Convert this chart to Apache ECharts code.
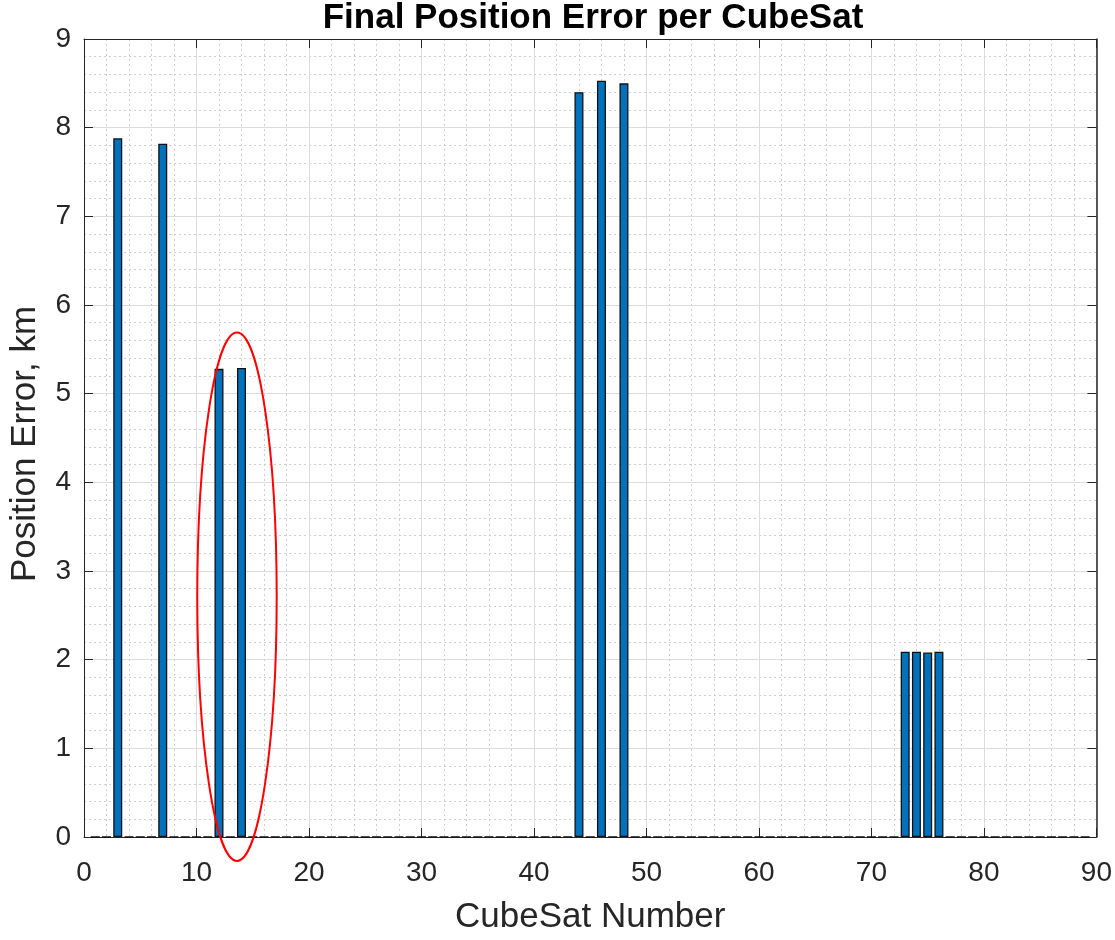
<!DOCTYPE html>
<html>
<head>
<meta charset="utf-8">
<script src="https://cdn.jsdelivr.net/npm/echarts@6/dist/echarts.min.js"></script>
<style>html,body{margin:0;padding:0;background:#fff;}#c{width:1115px;height:940px;}</style>
</head>
<body>
<div id="c"></div>
<script>
const satNumbers = Array.from({length: 89}, (_, i) => i + 1);
const nonZeroSats = [3, 7, 12, 14, 44, 46, 48, 73, 74, 75, 76];
const nonZeroErrors = [7.88, 7.82, 5.28, 5.29, 8.40, 8.53, 8.50, 2.09, 2.09, 2.08, 2.09];
const xTicks = [0, 10, 20, 30, 40, 50, 60, 70, 80, 90];
const yTicks = [0, 1, 2, 3, 4, 5, 6, 7, 8, 9];
// highlight ellipse: [centerX, centerY, radiusX, radiusY] in data units
const highlightEllipse = [13.6, 2.71, 3.53, 2.98];

const errors = satNumbers.map(n => {
  const k = nonZeroSats.indexOf(n);
  return k >= 0 ? nonZeroErrors[k] : 0;
});
const barData = satNumbers.map((n, i) => [n, errors[i]]);

const FONT = "'Liberation Sans', Arial, Helvetica, sans-serif";
const AX = '#262626';

const chart = echarts.init(document.getElementById('c'));
chart.setOption({
  animation: false,
  backgroundColor: '#fff',
  title: {
    text: 'Final Position Error per CubeSat',
    left: 588, top: -4, textAlign: 'center',
    textStyle: {fontFamily: FONT, fontSize: 35, fontWeight: 'bold', color: '#000'}
  },
  grid: {left: 78, right: 16, top: 39, bottom: 95},
  xAxis: [{
    type: 'value', min: xTicks[0], max: xTicks[xTicks.length - 1], interval: 10,
    name: 'CubeSat Number', nameLocation: 'middle', nameGap: 63,
    nameTextStyle: {fontFamily: FONT, fontSize: 35, color: AX},
    axisLine: {show: true, onZero: false, lineStyle: {color: AX, width: 1}},
    axisTick: {show: true, inside: true, length: 9, lineStyle: {color: AX}},
    axisLabel: {fontFamily: FONT, fontSize: 28, color: AX, margin: 22},
    splitLine: {show: true, lineStyle: {color: '#dcdcdc', width: 1}},
    minorTick: {show: false, splitNumber: 5},
    minorSplitLine: {show: true, lineStyle: {color: '#cfcfcf', width: 1, type: [2, 3]}}
  }, {
    type: 'value', position: 'top', min: xTicks[0], max: xTicks[xTicks.length - 1], interval: 10,
    axisLine: {show: true, onZero: false, lineStyle: {color: AX, width: 1}},
    axisTick: {show: true, inside: true, length: 9, lineStyle: {color: AX}},
    axisLabel: {show: false}, splitLine: {show: false}
  }],
  yAxis: [{
    type: 'value', min: yTicks[0], max: yTicks[yTicks.length - 1], interval: 1,
    name: 'Position Error, km', nameLocation: 'middle', nameGap: 41,
    nameTextStyle: {fontFamily: FONT, fontSize: 35, color: AX, padding: [0, 12, 0, 0]},
    axisLine: {show: true, onZero: false, lineStyle: {color: AX, width: 1}},
    axisTick: {show: true, inside: true, length: 9, lineStyle: {color: AX}},
    axisLabel: {fontFamily: FONT, fontSize: 28, color: AX, margin: 13},
    splitLine: {show: true, lineStyle: {color: '#dcdcdc', width: 1}},
    minorTick: {show: false, splitNumber: 5},
    minorSplitLine: {show: true, lineStyle: {color: '#cfcfcf', width: 1, type: [2, 3]}}
  }, {
    type: 'value', position: 'right', min: yTicks[0], max: yTicks[yTicks.length - 1], interval: 1,
    axisLine: {show: true, onZero: false, lineStyle: {color: AX, width: 1.5}},
    axisTick: {show: true, inside: true, length: 9, lineStyle: {color: AX}},
    axisLabel: {show: false}, splitLine: {show: false}
  }],
  series: [{
    type: 'bar',
    data: barData,
    barWidth: 9,
    itemStyle: {color: '#0072BD', borderColor: '#111', borderWidth: 1.3},
    z: 3
  }, {
    type: 'custom',
    clip: false,
    z: 5,
    data: [highlightEllipse],
    renderItem: function (params, api) {
      const c = api.coord([api.value(0), api.value(1)]);
      const s = api.size([api.value(2), api.value(3)]);
      return {
        type: 'ellipse',
        shape: {cx: c[0], cy: c[1], rx: s[0], ry: s[1]},
        style: {fill: 'none', stroke: '#ff0000', lineWidth: 2}
      };
    }
  }]
});
</script>
</body>
</html>
